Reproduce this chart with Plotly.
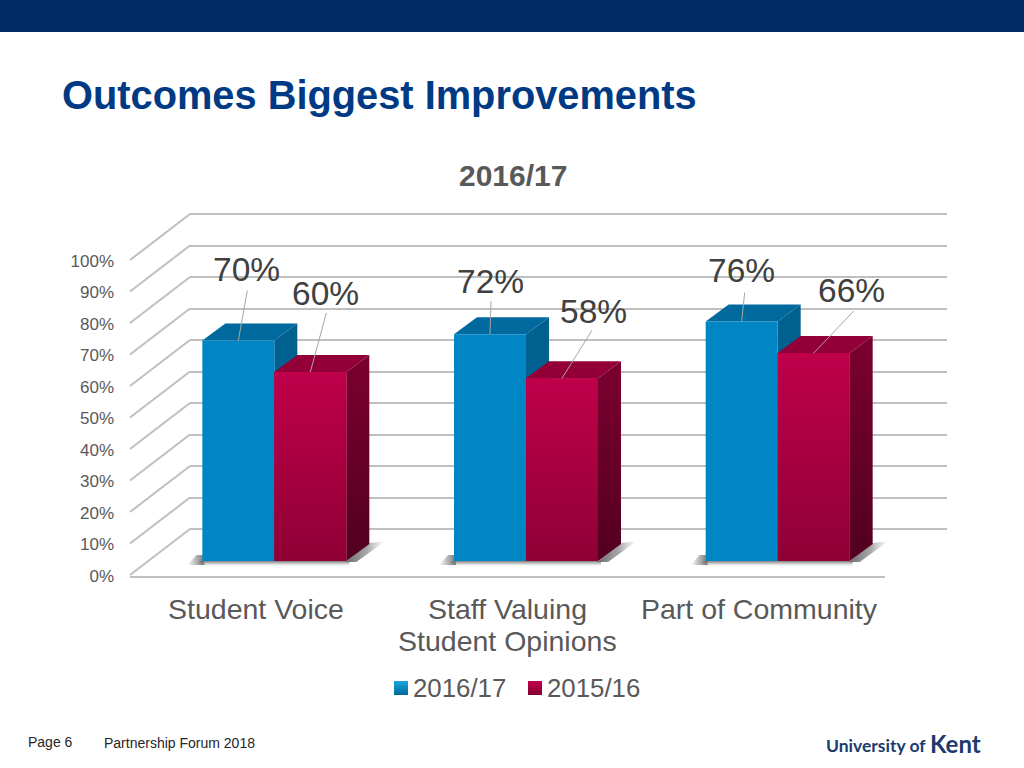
import plotly.graph_objects as go

categories = ["Student Voice", "Staff Valuing<br>Student Opinions", "Part of Community"]
series_names = ["2016/17", "2015/16"]
values_2016 = [70, 72, 76]
values_2015 = [60, 58, 66]
y_ticks = [0, 10, 20, 30, 40, 50, 60, 70, 80, 90, 100]
y_tick_labels = [f"{t}%" for t in y_ticks]

W, H = 1024, 768
FRONT_L, FRONT_R, FRONT_Y0, FRONT_Y100 = 130, 885, 575, 260
BACK_L, BACK_R, BACK_Y0, BACK_Y100 = 190, 947, 529, 214
BAR_L, BAR_R, BAR_Y0, BAR_Y100 = 148.5, 903.5, 561, 246
BAR_W = 72
DX, DY = 23, 17
GREY = "#595959"
LABEL = "#404040"
PAD = 2  # percent of head-room so the end gridlines are kept
TICK_NUDGE = 1  # front axis sits this many pixels lower than the wall lines


def dom_x(a, b):
    return [a / W, b / W]


def dom_y(top, bottom):
    return [1 - bottom / H, 1 - top / H]


def val_y(v):
    return BAR_Y0 + (BAR_Y100 - BAR_Y0) * v / 100


def bar_center(i):
    return BAR_L + (BAR_R - BAR_L) * (i + 0.5) / len(categories)


fig = go.Figure()


def poly(xs, ys, axis, c0, c1=None, gtype="vertical", scale=None):
    kw = {}
    if scale is not None:
        kw["fillgradient"] = dict(type=gtype, colorscale=scale)
    elif c1 is None:
        kw["fillcolor"] = c0
    else:
        kw["fillgradient"] = dict(type=gtype, colorscale=[[0, c0], [1, c1]])
    fig.add_trace(go.Scatter(x=xs + xs[:1], y=ys + ys[:1], mode="lines", fill="toself",
                             line=dict(width=0), hoverinfo="skip", showlegend=False,
                             xaxis="x" + axis, yaxis="y" + axis, **kw))


# back wall gridlines (subplot 1)
fig.add_trace(go.Scatter(x=[0], y=[0], mode="markers", marker=dict(opacity=0), hoverinfo="skip",
                         showlegend=False, xaxis="x", yaxis="y"))

# floor shadows and depth faces (subplot 2, drawn under the bars)
shadow_left = [[0, "rgba(130,130,130,0)"], [0.5, "rgba(125,125,125,0.55)"], [1, "rgba(110,110,110,0.95)"]]
shadow_right = [[0, "rgba(100,100,100,0.95)"], [0.55, "rgba(130,130,130,0.7)"], [1, "rgba(170,170,170,0)"]]
for i in range(len(categories)):
    c = bar_center(i)
    l, r = c - BAR_W, c + BAR_W
    poly([l - 15, l + 2, l + 2, l - 6], [BAR_Y0 + 4, BAR_Y0 + 4, BAR_Y0 - 6, BAR_Y0 - 6], "2",
         None, gtype="horizontal", scale=shadow_left)
    poly([l - 3, r + 3, r + 3, l - 3], [BAR_Y0, BAR_Y0, BAR_Y0 + 5, BAR_Y0 + 5], "2",
         "rgba(160,160,160,0)", "rgba(110,110,110,0.9)")
    poly([r - 1, r + DX, r + DX + 16, r + 10], [BAR_Y0 + 1, BAR_Y0 - DY - 1, BAR_Y0 - DY - 3, BAR_Y0 + 1], "2",
         None, gtype="horizontal", scale=shadow_right)
for i, v in enumerate(values_2016):
    c = bar_center(i)
    t = val_y(v)
    poly([c - BAR_W, c, c + DX, c - BAR_W + DX], [t, t, t - DY, t - DY], "2", "#006A9E")
    poly([c, c + DX, c + DX, c], [t, t - DY, BAR_Y0 - DY, BAR_Y0], "2", "#00608F")
for i, v in enumerate(values_2015):
    c = bar_center(i)
    t = val_y(v)
    poly([c, c + BAR_W, c + BAR_W + DX, c + DX], [t, t, t - DY, t - DY], "2", "#930037")
    poly([c + BAR_W, c + BAR_W + DX, c + BAR_W + DX, c + BAR_W], [t, t - DY, BAR_Y0 - DY, BAR_Y0], "2",
         "#52001F", "#7C002F")

# the bars themselves (subplot 3)
fig.add_trace(go.Bar(x=categories, y=values_2016, name=series_names[0], marker=dict(color="#0086C5", line_width=0),
                     xaxis="x3", yaxis="y3", offsetgroup="a", hoverinfo="x+y"))
fig.add_trace(go.Bar(x=categories, y=values_2015, name=series_names[1], marker=dict(color="#A8003F", line_width=0),
                     xaxis="x3", yaxis="y3", offsetgroup="b", hoverinfo="x+y"))

# gradient on the front of the 2015/16 bars (subplot 4)
for i, v in enumerate(values_2015):
    c = bar_center(i)
    t = val_y(v)
    poly([c, c + BAR_W, c + BAR_W, c], [t, t, BAR_Y0, BAR_Y0], "4", "#8F0035", "#BF004A")

# front axis (subplot 5): carries the tick labels and the floor line
fig.add_trace(go.Bar(x=categories, y=[0, 0, 0], marker_opacity=0, hoverinfo="skip", showlegend=False,
                     xaxis="x5", yaxis="y5"))

pixel_axis_x = dict(domain=[0, 1], range=[0, W], visible=False, fixedrange=True, automargin=False)
pixel_axis_y = dict(domain=[0, 1], range=[H, 0], visible=False, fixedrange=True, automargin=False)

back_unit = (BACK_Y0 - BACK_Y100) / 100

fig.update_layout(
    template="none",
    width=W, height=H, margin=dict(l=0, r=0, t=0, b=0),
    paper_bgcolor="white", plot_bgcolor="rgba(0,0,0,0)",
    showlegend=False, barmode="group",
    bargap=1 - 2 * BAR_W / ((BAR_R - BAR_L) / len(categories)), bargroupgap=0,
    font=dict(family="Liberation Sans, Arial, sans-serif", color=GREY),
    xaxis=dict(domain=dom_x(BACK_L, BACK_R), range=[0, 1], visible=False, fixedrange=True, automargin=False),
    yaxis=dict(domain=dom_y(BACK_Y100 - PAD * back_unit, BACK_Y0 + PAD * back_unit), range=[-PAD, 100 + PAD],
               tickvals=y_ticks, showticklabels=False,
               showgrid=True, gridcolor="#BFBFBF", gridwidth=2, zeroline=False, showline=False, ticks="",
               fixedrange=True, automargin=False),
    xaxis2=dict(pixel_axis_x, anchor="y2"),
    yaxis2=dict(pixel_axis_y, anchor="x2"),
    xaxis3=dict(domain=dom_x(BAR_L, BAR_R), anchor="y3", type="category", categoryorder="array",
                categoryarray=categories, range=[-0.5, 2.5], visible=False, fixedrange=True, automargin=False),
    yaxis3=dict(domain=dom_y(BAR_Y100, BAR_Y0), anchor="x3", range=[0, 100], visible=False, fixedrange=True,
                automargin=False),
    xaxis4=dict(pixel_axis_x, anchor="y4"),
    yaxis4=dict(pixel_axis_y, anchor="x4"),
    xaxis5=dict(domain=dom_x(FRONT_L, FRONT_R), anchor="y5", type="category", categoryorder="array",
                categoryarray=categories, range=[-0.5, 2.5], showline=True, linecolor="#BFBFBF", linewidth=2,
                showgrid=False, ticks="", showticklabels=False, fixedrange=True, automargin=False),
    yaxis5=dict(domain=dom_y(FRONT_Y100 + TICK_NUDGE, FRONT_Y0 + TICK_NUDGE), anchor="x5", range=[0, 100],
                tickvals=y_ticks, ticktext=y_tick_labels, showgrid=False, zeroline=False, showline=False, ticks="",
                tickfont=dict(size=17, color=GREY), ticklabelstandoff=15, fixedrange=True, automargin=False),
)

# header band
fig.add_shape(type="rect", xref="paper", yref="paper", x0=0, x1=1, y0=1 - 32 / H, y1=1,
              fillcolor="#002B63", line_width=0, layer="below")
# side-wall diagonals
for t in y_ticks:
    fy = FRONT_Y0 + (FRONT_Y100 - FRONT_Y0) * t / 100
    by = BACK_Y0 + (BACK_Y100 - BACK_Y0) * t / 100
    fig.add_shape(type="line", xref="x2", yref="y2", x0=FRONT_L, y0=fy, x1=BACK_L, y1=by,
                  line=dict(color="#BFBFBF", width=2), layer="below")


def note(x, y, text, size, color, anchor="center", family=None, weight=None):
    f = dict(size=size, color=color)
    if family:
        f["family"] = family
    if weight:
        f["weight"] = weight
    fig.add_annotation(x=x, y=y, xref="x2", yref="y2", text=text, showarrow=False, xanchor=anchor,
                       yanchor="middle", font=f, borderpad=0, borderwidth=0)


note(62, 95, "<b>Outcomes Biggest Improvements</b>", 39.8, "#003A84", "left")
note(513, 175, "<b>2016/17</b>", 30, GREY)
note(28, 742, "Page 6", 14, "#262626", "left")
note(104, 743, "Partnership Forum 2018", 14, "#262626", "left")
note(826, 745, "University of", 17.5, "#1C3A6E", "left", "Lato", 700)
note(930, 743, "Kent", 24, "#1C3A6E", "left", "Lato", 700)

# category labels, one annotation per line so the line pitch can match
cat_step = (FRONT_R - FRONT_L) / len(categories)
for i, cat in enumerate(categories):
    for j, line in enumerate(cat.split("<br>")):
        note(FRONT_L + cat_step * (i + 0.5), 609 + 32 * j, line, 28.5, GREY)

# data labels and leader lines, placed relative to the tops of the bars
label_offsets = {
    (0, 0): (8, -71), (0, 1): (15, -79),
    (1, 0): (0, -53), (1, 1): (31, -67),
    (2, 0): (0, -51), (2, 1): (38, -63),
}
line_starts = {
    (0, 0): (9, -50), (0, 1): (16, -59),
    (1, 0): (1, -33), (1, 1): (30, -48),
    (2, 0): (3, -29), (2, 1): (40, -42),
}
for s, vals in enumerate([values_2016, values_2015]):
    for i, v in enumerate(vals):
        cx = bar_center(i) + (-BAR_W / 2 if s == 0 else BAR_W / 2)
        t = val_y(v)
        lo = label_offsets[(i, s)]
        ls = line_starts[(i, s)]
        fig.add_shape(type="line", xref="x2", yref="y2", x0=cx + ls[0], y0=t + ls[1], x1=cx, y1=t,
                      line=dict(color="#A6A6A6", width=1))
        note(cx + lo[0], t + lo[1], f"{v}%", 33.5, LABEL)

# legend
leg_x = [394, 528]
for name, x, top, bot in zip(series_names, leg_x, ["#19A7DE", "#C8004E"], ["#00689C", "#80002C"]):
    poly([x, x + 14, x + 14, x], [681, 681, 695, 695], "4", bot, top)
    note(x + 19, 688, name, 25.8, GREY, "left")

fig.write_html("out.html", config=dict(displayModeBar=False),
               post_script="document.body.style.margin='0';document.body.style.overflow='hidden';")
